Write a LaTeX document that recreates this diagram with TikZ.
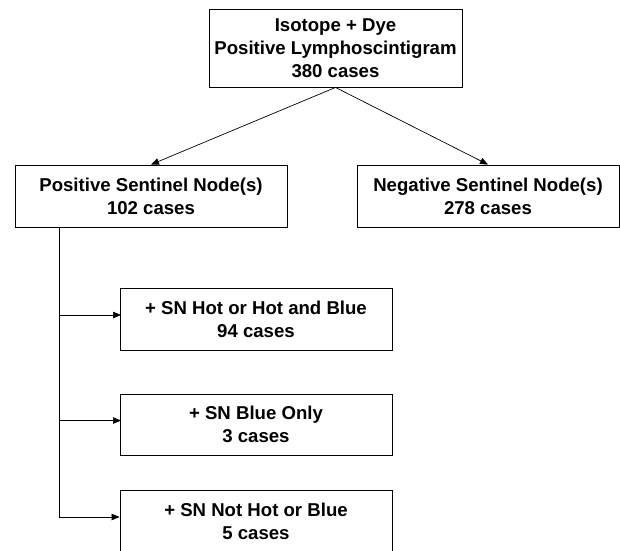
\documentclass[tikz,border=0pt]{standalone}
\usepackage{fontspec}
\setmainfont{Liberation Sans}
\usetikzlibrary{arrows.meta,positioning}

\begin{document}
\begin{tikzpicture}[x=1pt, y=1pt,
  every node/.style={font=\bfseries\fontsize{18.6}{23}\selectfont},
  box/.style={rectangle, draw, line width=0.9pt, align=center, inner sep=0pt, fill=white},
  arr/.style={-{Triangle[length=8pt, width=6.5pt]}, line width=0.7pt}]
\useasboundingbox (0,0) rectangle (620,-550);
% top
\node[box, minimum width=253, minimum height=78] (iso) at (335.5,-48)
  {Isotope + Dye\\Positive Lymphoscintigram\\380 cases};
% sentinel nodes
\node[box, minimum width=272, minimum height=62] (pos) at (151,-196)
  {Positive Sentinel Node(s)\\102 cases};
\node[box, minimum width=262, minimum height=62] (neg) at (488,-196)
  {Negative Sentinel Node(s)\\278 cases};
% positive subgroups
\node[box, minimum width=272, minimum height=62] (hot) at (256,-319)
  {+ SN Hot or Hot and Blue\\94 cases};
\node[box, minimum width=272, minimum height=61] (blue) at (256,-424.5)
  {+ SN Blue Only\\3 cases};
\node[box, minimum width=272, minimum height=62] (none) at (256,-521)
  {+ SN Not Hot or Blue\\5 cases};
\draw[arr] (iso.south) -- (pos.north);
\draw[arr] (iso.south) -- (neg.north);
\coordinate (bend) at (59,-517);
\draw[line width=0.7pt] (pos.south -| bend) -- (bend);
\draw[arr] (bend |- hot.west) ++(0,4) -- ++(62,0);
\draw[arr] (bend |- blue.west) ++(0,4) -- ++(62,0);
\draw[arr] (bend) -- (bend -| none.west);
\end{tikzpicture}
\end{document}
